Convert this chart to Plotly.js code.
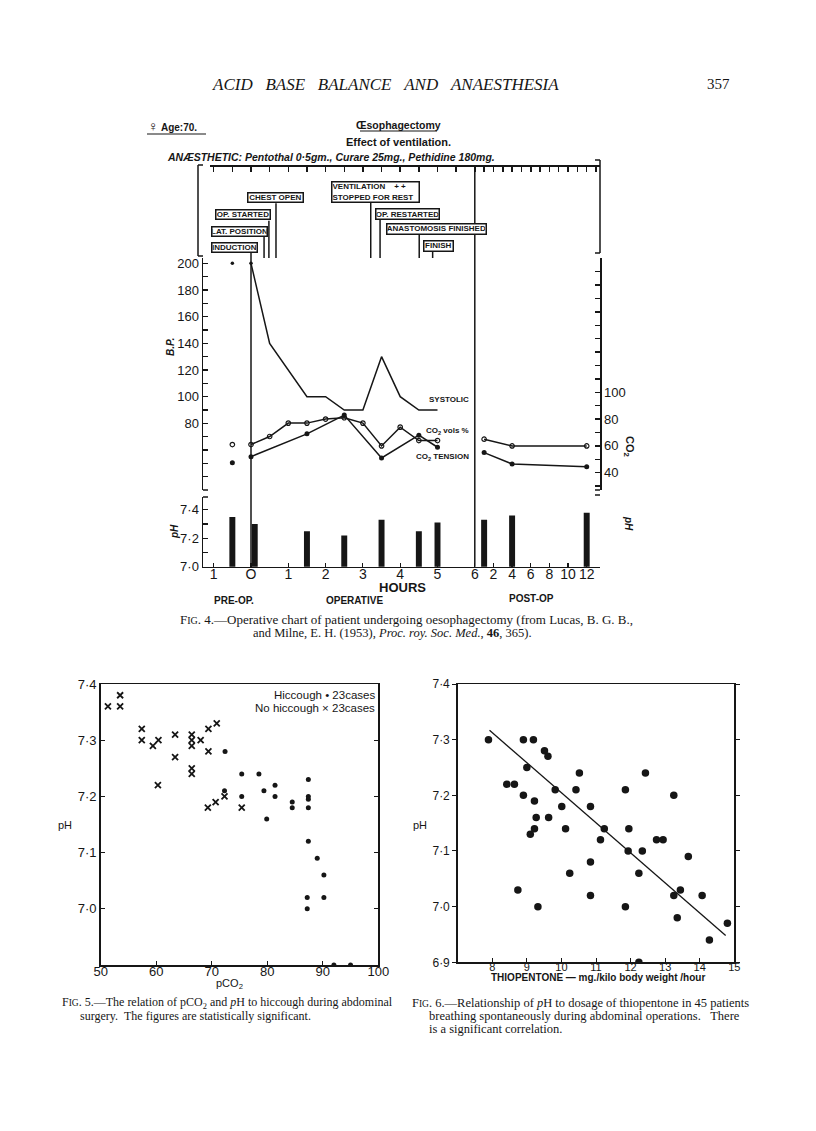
<!DOCTYPE html>
<html>
<head>
<meta charset="utf-8">
<script src="https://cdn.plot.ly/plotly-3.0.1.min.js"></script>
<style>
html,body{margin:0;padding:0;background:#fff;}
#chart{width:816px;height:1131px;}
</style>
</head>
<body>
<div id="chart"></div>
<script>
// ---------------- DATA ----------------
// Fig. 4 – operative chart (hours; post-op hours are on a compressed scale)
const preHour = -0.5;
const sysHours = [0, 0.5, 1.5, 2, 2.5, 3, 3.5, 4, 4.5, 5];
const systolic = [200, 140, 100, 100, 90, 90, 130, 100, 90, 90];
const preSystolic = 200;

const volHours = [0, 0.5, 1, 1.5, 2, 2.5, 3, 3.5, 4, 4.5, 5];
const co2Vols = [61, 67, 77, 77, 80, 81, 77, 60, 74, 64, 64];
const preCo2Vols = 61;

const tenHours = [0, 1.5, 2.5, 3.5, 4.5, 5];
const co2Tension = [52, 69, 83, 51, 68, 59];
const preCo2Tension = 47.5;

const postHours = [1, 4, 12];
const postCo2Vols = [65, 60, 60];
const postCo2Tension = [55, 46.5, 44.5];

const phHours = [-0.5, 0.1, 1.5, 2.5, 3.5, 4.5, 5];
const phValues = [7.35, 7.30, 7.25, 7.22, 7.33, 7.25, 7.31];
const phPostHours = [1, 4, 12];
const phPostValues = [7.33, 7.36, 7.38];

const bpTickVals = [30, 40, 50, 60, 70, 80, 90, 100, 110, 120, 130, 140, 150, 160, 170, 180, 190, 200];
const co2TickVals = [30, 40, 50, 60, 70, 80, 90, 100, 110, 120, 130, 140, 150, 160, 170, 180, 190, 200];
const phTickVals = [7.0, 7.1, 7.2, 7.3, 7.4];
const phTickText = ['7·0', ' ', '7·2', ' ', '7·4'];
const opTickHours = [-1, 0, 1, 2, 3, 4, 5, 6];
const opTickText = ['1', 'O', '1', '2', '3', '4', '5', '6'];
const postTickHours = [2, 4, 6, 8, 10, 12];
const postTickText = ['2', '4', '6', '8', '10', '12'];

const eventLabels = ['INDUCTION', 'LAT. POSITION', 'OP. STARTED', 'CHEST OPEN',
  'VENTILATION&nbsp;&nbsp;&nbsp;&nbsp;+ +<br>STOPPED FOR REST', 'OP. RESTARTED', 'ANASTOMOSIS FINISHED', 'FINISH'];
const eventHours = [0, 0.35, 0.48, 0.67, 3.21, 3.46, 4.51, 4.87];

// Fig. 5 – pCO2 vs pH
const noHiccoughPco2 = [51.3, 53.5, 53.5, 57.4, 57.4, 59.4, 60.4, 60.3, 63.4, 63.4, 66.4, 66.4, 66.4, 66.4, 66.4, 68.0, 69.4, 69.4, 70.9, 69.3, 70.7, 72.3, 75.4];
const noHiccoughPh = [7.36, 7.38, 7.36, 7.32, 7.30, 7.29, 7.30, 7.22, 7.31, 7.27, 7.31, 7.30, 7.29, 7.25, 7.24, 7.30, 7.32, 7.28, 7.33, 7.18, 7.19, 7.20, 7.18];
const hiccoughPco2 = [72.4, 72.3, 75.4, 75.4, 78.5, 79.4, 79.9, 81.4, 81.4, 84.5, 84.5, 87.4, 87.4, 87.4, 87.4, 87.4, 89.0, 90.2, 90.2, 87.2, 87.2, 92.0, 95.0];
const hiccoughPh = [7.28, 7.21, 7.24, 7.20, 7.24, 7.21, 7.16, 7.22, 7.20, 7.19, 7.18, 7.23, 7.20, 7.195, 7.18, 7.12, 7.09, 7.06, 7.02, 7.02, 7.00, 6.90, 6.90];
const fig5XTicks = [50, 60, 70, 80, 90, 100];
const fig5YTicks = [7.0, 7.1, 7.2, 7.3, 7.4];
const fig5YText = ['7·0', '7·1', '7·2', '7·3', '7·4'];

// Fig. 6 – thiopentone dosage vs pH
const thioDose = [7.89, 8.42, 8.64, 8.74, 8.90, 8.90, 9.0, 9.10, 9.19, 9.22, 9.22, 9.27, 9.32, 9.51, 9.61, 9.63, 9.82, 10.01, 10.12, 10.24, 10.42, 10.52, 10.84, 10.84, 10.84, 11.13, 11.24, 11.85, 11.85, 11.95, 11.93, 12.24, 12.34, 12.24, 12.43, 12.75, 12.94, 13.25, 13.25, 13.44, 13.35, 13.67, 14.07, 14.28, 14.8];
const thioPh = [7.30, 7.22, 7.22, 7.03, 7.30, 7.20, 7.25, 7.13, 7.30, 7.19, 7.14, 7.16, 7.00, 7.28, 7.27, 7.16, 7.21, 7.18, 7.14, 7.06, 7.21, 7.24, 7.18, 7.08, 7.02, 7.12, 7.14, 7.21, 7.00, 7.14, 7.10, 7.06, 7.10, 6.90, 7.24, 7.12, 7.12, 7.20, 7.02, 7.03, 6.98, 7.09, 7.02, 6.94, 6.97];
const fitDose = [7.92, 14.75];
const fitPh = [7.317, 6.948];
const fig6XTicks = [8, 9, 10, 11, 12, 13, 14, 15];
const fig6YTicks = [6.9, 7.0, 7.1, 7.2, 7.3, 7.4];
const fig6YText = ['6·9', '7·0', '7·1', '7·2', '7·3', '7·4'];

// ---------------- LAYOUT HELPERS ----------------
const W = 816, H = 1131;
const px = v => v / W;
const py = v => 1 - v / H;
const hx = p => (p - 251) / 37.3;          // pixel -> hour axis coordinate (Fig. 4)
const postX = h => 6 + h / 4;              // compressed post-op scale
const INK = '#161616';
const SANS = 'Liberation Sans, Arial, sans-serif';
const SERIF = 'Liberation Serif, Times New Roman, serif';

function txt(text, x, y, o) {
  o = o || {};
  return {
    text: text, x: px(x), y: py(y), xref: 'paper', yref: 'paper', showarrow: false,
    xanchor: o.xa || 'center', yanchor: 'middle', textangle: o.angle || 0,
    font: { family: o.family || SANS, size: o.size || 11, color: INK,
            weight: o.weight || 'normal', style: o.style || 'normal' }
  };
}
function seg(x0, y0, x1, y1, w) {
  return { type: 'line', xref: 'paper', yref: 'paper', x0: px(x0), y0: py(y0), x1: px(x1), y1: py(y1),
           line: { color: INK, width: w || 1.5 } };
}

// ---------------- TRACES ----------------
const ln = { color: INK, width: 1.5 };
const traces = [
  { x: sysHours, y: systolic, mode: 'lines', line: ln, xaxis: 'x', yaxis: 'y' },
  { x: [preHour, sysHours[0]], y: [preSystolic, systolic[0]], mode: 'markers',
    marker: { color: INK, size: 3.5 }, xaxis: 'x', yaxis: 'y' },
  { x: volHours, y: co2Vols, mode: 'lines+markers', line: ln,
    marker: { symbol: 'circle-open', size: 4.5, color: INK, line: { width: 1.2 } }, xaxis: 'x', yaxis: 'y2' },
  { x: [preHour], y: [preCo2Vols], mode: 'markers',
    marker: { symbol: 'circle-open', size: 4.5, color: INK, line: { width: 1.2 } }, xaxis: 'x', yaxis: 'y2' },
  { x: postHours.map(postX), y: postCo2Vols, mode: 'lines+markers', line: ln,
    marker: { symbol: 'circle-open', size: 4.5, color: INK, line: { width: 1.2 } }, xaxis: 'x', yaxis: 'y2' },
  { x: tenHours, y: co2Tension, mode: 'lines+markers', line: ln,
    marker: { size: 5, color: INK }, xaxis: 'x', yaxis: 'y2' },
  { x: [preHour], y: [preCo2Tension], mode: 'markers', marker: { size: 5, color: INK }, xaxis: 'x', yaxis: 'y2' },
  { x: postHours.map(postX), y: postCo2Tension, mode: 'lines+markers', line: ln,
    marker: { size: 5, color: INK }, xaxis: 'x', yaxis: 'y2' },
  { type: 'bar', x: phHours, y: phValues, width: 0.16, marker: { color: INK }, xaxis: 'x2', yaxis: 'y3' },
  { type: 'bar', x: phPostHours.map(postX), y: phPostValues, width: 0.16, marker: { color: INK }, xaxis: 'x2', yaxis: 'y3' },
  { x: [null], y: [null], mode: 'markers', xaxis: 'x3', yaxis: 'y', hoverinfo: 'skip' },
  // Fig 5
  { x: noHiccoughPco2, y: noHiccoughPh, mode: 'markers',
    marker: { symbol: 'x-thin', size: 6, color: INK, line: { width: 1.8, color: INK } }, xaxis: 'x4', yaxis: 'y5' },
  { x: hiccoughPco2, y: hiccoughPh, mode: 'markers', marker: { size: 5, color: INK }, xaxis: 'x4', yaxis: 'y5' },
  // Fig 6
  { x: thioDose, y: thioPh, mode: 'markers', marker: { size: 7.5, color: INK }, xaxis: 'x5', yaxis: 'y6' },
  { x: fitDose, y: fitPh, mode: 'lines', line: { color: INK, width: 1.3 }, xaxis: 'x5', yaxis: 'y6' }
];

// ---------------- AXES ----------------
const base = { showgrid: false, zeroline: false, linecolor: INK, tickcolor: INK,
               tickfont: { family: SANS, size: 13, color: INK } };
const bpText = bpTickVals.map(v => (v >= 80 && v % 20 === 0) ? String(v) : ' ');
const co2Text = co2TickVals.map(v => (v >= 40 && v <= 100 && v % 20 === 0) ? String(v) : ' ');

const topTicks = [];
for (let t = -1; t <= 6.001; t += 0.5) topTicks.push(t);
for (let t = 6.25; t <= 9.3; t += 0.25) topTicks.push(t);

const layout = {
  width: W, height: H, margin: { l: 0, r: 0, t: 0, b: 0 },
  paper_bgcolor: '#fff', plot_bgcolor: 'rgba(0,0,0,0)', showlegend: false,
  xaxis: Object.assign({}, base, { domain: [px(203), px(600)], range: [hx(203), hx(600)], anchor: 'y',
    showline: false, showticklabels: false, ticks: '' }),
  yaxis: Object.assign({}, base, { domain: [py(490), py(258)], range: [30, 204], anchor: 'x',
    showline: true, linewidth: 1.5, ticks: 'inside', ticklen: 5, tickwidth: 1.3,
    tickmode: 'array', tickvals: bpTickVals, ticktext: bpText }),
  yaxis2: Object.assign({}, base, { overlaying: 'y', side: 'right', anchor: 'x', range: [27.1, 200.2],
    showline: true, linewidth: 1.5, ticks: 'inside', ticklen: 5, tickwidth: 1.3,
    tickmode: 'array', tickvals: co2TickVals, ticktext: co2Text }),
  xaxis2: Object.assign({}, base, { domain: [px(203), px(600)], range: [hx(203), hx(600)], anchor: 'y3',
    showline: true, linewidth: 1.5, ticks: 'inside', ticklen: 4, tickwidth: 1.2, ticklabelstandoff: -6,
    tickmode: 'array', tickvals: opTickHours.concat(postTickHours.map(postX)),
    ticktext: opTickText.concat(postTickText), tickfont: { family: SANS, size: 14, color: INK } }),
  yaxis3: Object.assign({}, base, { domain: [py(566.7), py(497)], range: [7.0, 7.49], anchor: 'x2',
    showline: true, linewidth: 1.5, ticks: 'inside', ticklen: 5, tickwidth: 1.3,
    tickmode: 'array', tickvals: phTickVals, ticktext: phTickText }),
  yaxis4: Object.assign({}, base, { overlaying: 'y3', side: 'right', anchor: 'x2', range: [7.0, 7.467],
    showline: true, linewidth: 1.5, ticks: 'inside', ticklen: 5, tickwidth: 1.3,
    tickmode: 'array', tickvals: phTickVals, ticktext: phTickText }),
  xaxis3: Object.assign({}, base, { domain: [px(210), px(600)], range: [hx(210), hx(600)],
    anchor: 'free', position: py(165), side: 'top', showline: true, linewidth: 1.5,
    ticks: 'inside', ticklen: 5, tickwidth: 1.5, tickmode: 'array', tickvals: topTicks, showticklabels: false }),
  // Fig 5
  xaxis4: Object.assign({}, base, { domain: [px(100.7), px(378.3)], range: [50, 100], anchor: 'y5',
    showline: true, mirror: true, linewidth: 1.5, ticks: 'inside', ticklen: 4, ticklabelstandoff: -6,
    tickmode: 'array', tickvals: fig5XTicks }),
  yaxis5: Object.assign({}, base, { domain: [py(965), py(684)], range: [6.9, 7.4], anchor: 'x4',
    showline: true, mirror: 'ticks', linewidth: 1.5, ticks: 'inside', ticklen: 4,
    tickmode: 'array', tickvals: fig5YTicks, ticktext: fig5YText }),
  // Fig 6
  xaxis5: Object.assign({}, base, { domain: [px(457.7), px(734.3)], range: [7, 15], anchor: 'y6',
    showline: true, mirror: true, linewidth: 1.5, ticks: 'inside', ticklen: 4, ticklabelstandoff: -6,
    tickmode: 'array', tickvals: fig6XTicks, tickfont: { family: SANS, size: 11, color: INK } }),
  yaxis6: Object.assign({}, base, { domain: [py(962.3), py(684)], range: [6.9, 7.4], anchor: 'x5',
    showline: true, mirror: 'ticks', linewidth: 1.5, ticks: 'outside', ticklen: 4,
    tickmode: 'array', tickvals: fig6YTicks, ticktext: fig6YText, tickfont: { family: SANS, size: 12, color: INK } }),
  shapes: [],
  annotations: []
};

// ---------------- SHAPES ----------------
const S = layout.shapes;
// main vertical time lines
S.push({ type: 'line', xref: 'x', yref: 'paper', x0: 0, x1: 0, y0: py(252), y1: py(566.7), line: { color: INK, width: 1.5 } });
S.push({ type: 'line', xref: 'x', yref: 'paper', x0: 6, x1: 6, y0: py(165), y1: py(566.7), line: { color: INK, width: 1.5 } });
// header brackets
S.push(seg(203, 165, 198, 165), seg(198, 165, 198, 256), seg(198, 256, 203, 256));
S.push(seg(595, 160, 600, 160), seg(600, 160, 600, 253), seg(600, 253, 595, 253));
// axis feet
S.push(seg(203, 490, 208, 490), seg(203, 497, 208, 497));
S.push(seg(600, 490, 595, 490), seg(600, 495, 595, 495));
// underlines
S.push(seg(147, 134, 206, 134, 1.2), seg(360, 131, 437, 131, 1.2));

// event boxes (left, top, right, bottom in px)
const boxes = [
  [211.3, 241.7, 258, 252.7], [211.3, 226, 268.3, 236.7], [214.7, 209.3, 270.7, 220.7], [247.3, 192, 304, 203.3],
  [330.7, 180.7, 419.3, 202.7], [375, 207.7, 440, 220], [386, 223.3, 486.7, 235], [422.7, 240, 453.3, 251.7]
];
eventLabels.forEach((lab, i) => {
  const b = boxes[i];
  const multi = lab.indexOf('<br>') >= 0;
  layout.annotations.push({
    text: lab, xref: 'paper', yref: 'paper', x: px(b[0]), y: py(b[1]), xanchor: 'left', yanchor: 'top',
    showarrow: false, align: multi ? 'left' : 'center', bgcolor: '#fff', bordercolor: INK, borderwidth: 1.5, borderpad: 0,
    width: b[2] - b[0] - 3, height: b[3] - b[1] - 3,
    font: { family: SANS, size: 8, color: INK, weight: 'bold' }
  });
  if (i > 0) {
    S.push({ type: 'line', xref: 'x', yref: 'paper', x0: eventHours[i], x1: eventHours[i],
             y0: py(b[3]), y1: py(258), line: { color: INK, width: 1.5 } });
  }
});

// ---------------- TEXT ----------------
const A = layout.annotations;
A.push(txt('ACID&nbsp;&nbsp;&nbsp;BASE&nbsp;&nbsp;&nbsp;BALANCE&nbsp;&nbsp;&nbsp;AND&nbsp;&nbsp;&nbsp;ANAESTHESIA', 385, 84, { family: SERIF, size: 17, style: 'italic' }));
A.push(txt('357', 718, 84, { family: SERIF, size: 15 }));
A.push(txt('<span style="font-size:14px">♀</span> Age:70.', 146, 126, { xa: 'left', size: 10, weight: 'bold' }));
A.push(txt('Œsophagectomy', 398, 125, { size: 10.5, weight: 'bold' }));
A.push(txt('Effect of ventilation.', 398, 142, { size: 11, weight: 'bold' }));
A.push(txt('ANÆSTHETIC: Pentothal 0·5gm., Curare 25mg., Pethidine 180mg.', 165, 157,
  { xa: 'left', size: 10.5, weight: 'bold', style: 'italic' }));

A.push(txt('B.P.', 170, 347, { angle: -90, size: 10, weight: 'bold', style: 'italic' }));
A.push(txt('CO<sub>2</sub>', 629, 446, { angle: 90, size: 11, weight: 'bold' }));
A.push(txt('pH', 174, 532, { angle: -90, size: 10, weight: 'bold', style: 'italic' }));
A.push(txt('pH', 629, 523, { angle: 90, size: 10, weight: 'bold', style: 'italic' }));

A.push(txt('SYSTOLIC', 471, 400, { xa: 'right', size: 8, weight: 'bold' }));
A.push(txt('CO<sub>2</sub> vols %', 471, 431, { xa: 'right', size: 8, weight: 'bold' }));
A.push(txt('CO<sub>2</sub> TENSION', 471, 457, { xa: 'right', size: 8, weight: 'bold' }));

A.push(txt('HOURS', 402, 587, { size: 13, weight: 'bold' }));
A.push(txt('PRE-OP.', 234, 600, { size: 10, weight: 'bold' }));
A.push(txt('OPERATIVE', 354, 600, { size: 10, weight: 'bold' }));
A.push(txt('POST-OP', 531, 598, { size: 10, weight: 'bold' }));

A.push(txt('F<span style="font-size:10px">IG</span>. 4.—Operative chart of patient undergoing oesophagectomy (from Lucas, B. G. B.,',
  406, 619, { family: SERIF, size: 13 }));
A.push(txt('and Milne, E. H. (1953), <i>Proc. roy. Soc. Med.</i>, <b>46</b>, 365).', 392, 633, { family: SERIF, size: 12.5 }));

// Fig 5 texts
A.push(txt('Hiccough • 23cases', 377, 695, { xa: 'right', size: 11.5 }));
A.push(txt('No hiccough × 23cases', 377, 707.5, { xa: 'right', size: 11.5 }));
A.push(txt('pH', 65, 825, { size: 11 }));
A.push(txt('pCO<sub>2</sub>', 229, 984, { size: 11 }));
// Fig 6 texts
A.push(txt('pH', 420, 825, { size: 11 }));
A.push(txt('THIOPENTONE — mg./kilo body weight /hour', 598, 977, { size: 10, weight: 'bold' }));

// captions
A.push(txt('F<span style="font-size:9.5px">IG</span>. 5.—The relation of pCO<sub>2</sub> and <i>p</i>H to hiccough during abdominal',
  60, 1003, { xa: 'left', family: SERIF, size: 12 }));
A.push(txt('surgery.&nbsp;&nbsp;The figures are statistically significant.', 78, 1016, { xa: 'left', family: SERIF, size: 12 }));
A.push(txt('F<span style="font-size:9.5px">IG</span>. 6.—Relationship of <i>p</i>H to dosage of thiopentone in 45 patients',
  410, 1003, { xa: 'left', family: SERIF, size: 12.5 }));
A.push(txt('breathing spontaneously during abdominal operations.&nbsp;&nbsp;&nbsp;There', 427, 1016, { xa: 'left', family: SERIF, size: 12.5 }));
A.push(txt('is a significant correlation.', 427, 1029, { xa: 'left', family: SERIF, size: 12.5 }));

Plotly.newPlot('chart', traces, layout, { staticPlot: true, displayModeBar: false });
</script>
</body>
</html>
